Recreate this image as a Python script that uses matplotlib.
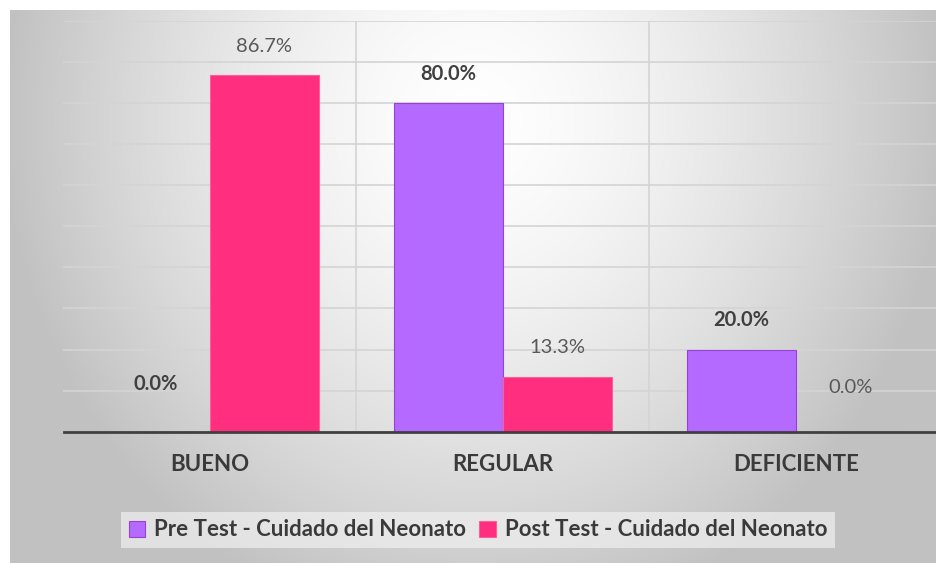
import numpy as np
import matplotlib
matplotlib.use("Agg")
import matplotlib.pyplot as plt

categories = ["BUENO", "REGULAR", "DEFICIENTE"]
pre_test = [0.0, 80.0, 20.0]
post_test = [86.7, 13.3, 0.0]
series_names = ["Pre Test - Cuidado del Neonato", "Post Test - Cuidado del Neonato"]

PURPLE = "#B46AFF"
PURPLE_EDGE = "#9A3FD6"
PINK = "#FF2E7E"
PINK_EDGE = "#FF5C9A"
FONT = ["Lato", "DejaVu Sans"]

W, H = 937, 563
fig = plt.figure(figsize=(W / 100, H / 100), dpi=100)
fig.patch.set_facecolor("white")

# background gradient (chart area)
bg = fig.add_axes([10 / W, 0, (W - 10) / W, (H - 10) / H], zorder=0)
ny, nx = 300, 500
yy, xx = np.mgrid[0:ny, 0:nx]
cx, cy = nx * 0.50, ny * 0.20
d = np.sqrt(((xx - cx) / (nx * 0.52)) ** 2 + ((yy - cy) / (ny * 0.95)) ** 2)
val = 1.0 - 0.25 * np.clip(d, 0, 1.2) ** 1.5
val = np.clip(val, 0.76, 1.0)
bg.imshow(np.dstack([val, val, val]), aspect="auto", extent=[0, 1, 0, 1], origin="upper")
bg.set_axis_off()

left_px, right_px = 63.5, 942.5
top_px, bot_px = 20.7, 431.7
ax = fig.add_axes([left_px / W, 1 - bot_px / H, (right_px - left_px) / W, (bot_px - top_px) / H], zorder=1)
ax.set_facecolor("none")

x = np.arange(len(categories))
w = 0.372
b1 = ax.bar(x - w / 2, pre_test, w, color=PURPLE, edgecolor=PURPLE_EDGE, linewidth=0.8, label=series_names[0], zorder=3)
b2 = ax.bar(x + w / 2, post_test, w, color=PINK, edgecolor=PINK_EDGE, linewidth=0.8, label=series_names[1], zorder=3)

ax.set_xlim(-0.5, 2.5)
ax.set_ylim(0, 100)
ax.set_yticks(np.arange(0, 101, 10))
ax.yaxis.grid(True, color="#d4d4d4", linewidth=1.2, zorder=1)
for xb in [0.5, 1.5]:
    ax.axvline(xb, color="#d4d4d4", linewidth=1.2, zorder=1)
ax.tick_params(axis="y", left=False, labelleft=False)
ax.set_xticks(x)
ax.set_xticklabels(categories, fontfamily=FONT, fontweight="bold", fontsize=16, color="#3a3a3a")
ax.tick_params(axis="x", length=0, pad=16)
for s in ["top", "right", "left"]:
    ax.spines[s].set_visible(False)
ax.spines["bottom"].set_color("#404040")
ax.spines["bottom"].set_linewidth(2.0)
ax.spines["bottom"].set_zorder(4)

for xi, v in zip(x - w / 2, pre_test):
    off = 34 if v == 0 else 21
    ax.annotate(f"{v:.1f}%", (xi, v), xytext=(0, off), textcoords="offset points",
                ha="center", va="center", fontfamily=FONT, fontweight="bold",
                fontsize=14.5, color="#404040")
for xi, v in zip(x + w / 2, post_test):
    off = 32 if v == 0 else 21
    ax.annotate(f"{v:.1f}%", (xi, v), xytext=(0, off), textcoords="offset points",
                ha="center", va="center", fontfamily=FONT, fontweight="normal",
                fontsize=14.5, color="#595959")

leg = fig.legend(handles=[b1, b2], labels=series_names, loc="center",
                 bbox_to_anchor=(478 / W, 1 - 530 / H), ncol=2, frameon=True,
                 prop={"family": FONT, "weight": "bold", "size": 16},
                 handlelength=0.75, handleheight=0.75, handletextpad=0.4,
                 columnspacing=0.6, borderpad=0.32, fancybox=False)
leg.get_frame().set_facecolor("#f0f0f0")
leg.get_frame().set_alpha(0.7)
leg.get_frame().set_edgecolor("none")
for t in leg.get_texts():
    t.set_color("#3a3a3a")

fig.savefig("out.png", dpi=100, facecolor=fig.get_facecolor())
